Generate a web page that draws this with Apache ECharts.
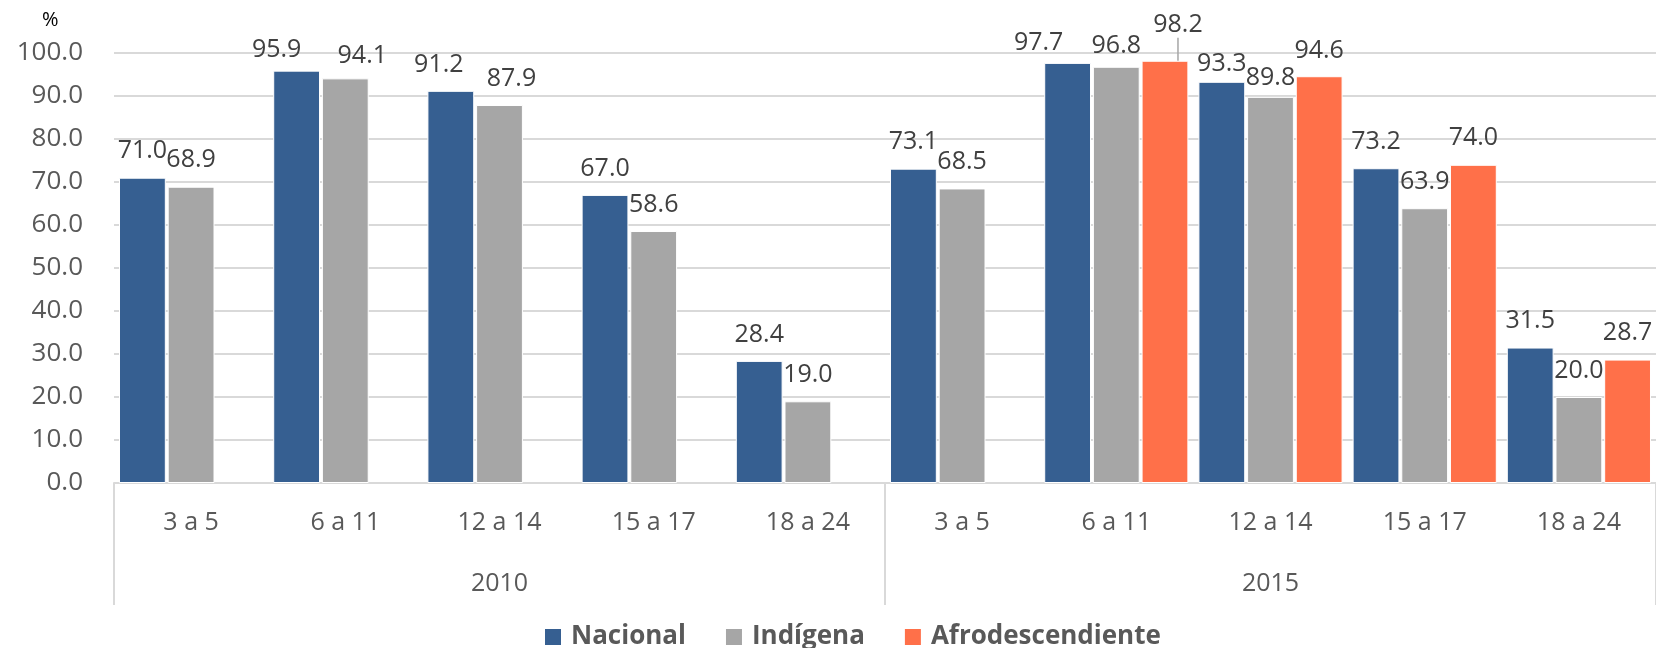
<!DOCTYPE html>
<html>
<head>
<meta charset="utf-8">
<script src="https://cdn.jsdelivr.net/npm/echarts@6/dist/echarts.min.js"></script>
<style>
  html, body { margin: 0; padding: 0; background: #fff; }
  #chart { width: 1656px; height: 648px; }
</style>
</head>
<body>
<div id="chart"></div>
<script>
// grupos de edad (2010 y 2015)
var ages = ["3 a 5", "6 a 11", "12 a 14", "15 a 17", "18 a 24",
            "3 a 5", "6 a 11", "12 a 14", "15 a 17", "18 a 24"];
var years = ["2010", "2015"];
var nacional = [71.0, 95.9, 91.2, 67.0, 28.4, 73.1, 97.7, 93.3, 73.2, 31.5];
var indigena = [68.9, 94.1, 87.9, 58.6, 19.0, 68.5, 96.8, 89.8, 63.9, 20.0];
var afro = [null, null, null, null, null, null, 98.2, 94.6, 74.0, 28.7];
var yTicks = { min: 0, max: 100, step: 10 };

// label nudges (dx, dy in px) where the original spread overlapping labels
var nudges = {
  0: { 1: [-20, 6], 2: [-12, 1], 6: [-29, 6], 7: [0, 9] },
  1: { 1: [17, 4], 2: [12, 0], 6: [0, 6], 7: [0, 8] },
  2: { 6: [13, -9], 7: [0, 1] }
};

var font = "'Open Sans', 'Noto Sans', sans-serif";
var gridColor = "#d9d9d9";

var chart = echarts.init(document.getElementById("chart"));

function barSeries(idx, name, data, color) {
  return {
    name: name,
    type: "bar",
    data: data,
    barGap: "4%",
    barCategoryGap: "6.5%",
    itemStyle: { color: color, borderColor: "#fff", borderWidth: 1 },
    label: {
      show: true,
      position: "top",
      distance: 14,
      color: "#404040",
      fontSize: 25,
      fontFamily: font,
      formatter: function (p) { return p.value == null ? "" : p.value.toFixed(1); }
    },
    labelLine: { show: false },
    labelLayout: function (params) {
      var n = nudges[idx][params.dataIndex];
      if (n) return { dx: n[0], dy: n[1] };
    }
  };
}

// only the 98.2 label keeps a leader line
var afroData = afro.map(function (v, i) {
  if (i === 6) {
    return { value: v, labelLine: { show: true, lineStyle: { color: "#a6a6a6", width: 1.5 } } };
  }
  return v;
});

var option = {
  animation: false,
  grid: { left: 114, right: -8, top: 53, bottom: 165, containLabel: false },
  graphic: [{
    type: "text",
    left: 42, top: 10,
    style: { text: "%", fontSize: 20, fontFamily: font, fill: "#000" }
  }],
  legend: {
    data: ["Nacional", "Indígena", "Afrodescendiente"],
    left: 538,
    top: 619,
    icon: "rect",
    itemWidth: 18,
    itemHeight: 18,
    itemGap: 38,
    textStyle: {
      fontSize: 26,
      fontWeight: "bold",
      color: "#595959",
      fontFamily: font,
      padding: [0, 0, 0, 4]
    }
  },
  xAxis: [
    {
      type: "category",
      data: ages,
      axisLine: { lineStyle: { color: gridColor, width: 2 } },
      axisTick: { show: false },
      axisLabel: { color: "#595959", fontSize: 25, fontFamily: font, margin: 27, interval: 0 }
    },
    {
      type: "category",
      data: years,
      position: "bottom",
      axisLine: { show: false },
      axisTick: { show: true, length: 122, lineStyle: { color: gridColor, width: 2 } },
      axisLabel: { color: "#595959", fontSize: 25, fontFamily: font, margin: 88 }
    }
  ],
  yAxis: {
    type: "value",
    min: yTicks.min,
    max: yTicks.max,
    interval: yTicks.step,
    axisLine: { show: false },
    axisTick: { show: false },
    splitLine: { lineStyle: { color: gridColor, width: 2 } },
    axisLabel: {
      color: "#595959", fontSize: 26, fontFamily: font, margin: 31,
      formatter: function (v) { return v.toFixed(1); }
    }
  },
  series: [
    barSeries(0, "Nacional", nacional, "#365f91"),
    barSeries(1, "Indígena", indigena, "#a6a6a6"),
    barSeries(2, "Afrodescendiente", afroData, "#ff7049")
  ]
};

chart.setOption(option);
</script>
</body>
</html>
